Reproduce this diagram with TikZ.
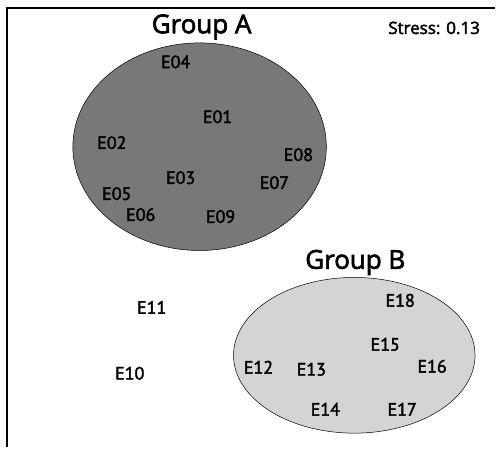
\documentclass[tikz,border=0pt]{standalone}
\usepackage{fontspec}
\setmainfont{PT Sans}
\newfontfamily\lblfont[FakeBold=2.2]{PT Sans}
\newfontfamily\grpfont[FakeBold=2.5]{Open Sans}

\begin{document}
\begin{tikzpicture}[x=1pt,y=-1pt,
  lbl/.style={font=\lblfont\fontsize{18}{20}\selectfont},
  grp/.style={font=\grpfont\fontsize{26}{30}\selectfont}]
\path (0,0) rectangle (496,448);
\draw[line width=2pt] (7,448) -- (7,8) -- (496,8);
\draw[fill=black!53,line width=0.5pt] (200,147) ellipse [x radius=127,y radius=104];
\draw[fill=black!17,line width=0.5pt] (355,356) ellipse [x radius=121,y radius=78];
\node[grp] (grpA) at (202,27) {Group A};
\node[grp] (grpB) at (356,263) {Group B};
\node[font=\grpfont\fontsize{17}{20}\selectfont] (stress) at (435,28) {Stress: 0.13};
\node[lbl] (e01) at (218,117) {E01};
\node[lbl] (e02) at (112,143) {E02};
\node[lbl] (e03) at (181,178) {E03};
\node[lbl] (e04) at (176,62) {E04};
\node[lbl] (e05) at (117,194) {E05};
\node[lbl] (e06) at (141,215) {E06};
\node[lbl] (e07) at (275,183) {E07};
\node[lbl] (e08) at (299,155) {E08};
\node[lbl] (e09) at (221,217) {E09};
\node[lbl] (e10) at (130,374) {E10};
\node[lbl] (e11) at (152,308) {E11};
\node[lbl] (e12) at (259,368) {E12};
\node[lbl] (e13) at (312,370) {E13};
\node[lbl] (e14) at (326,410) {E14};
\node[lbl] (e15) at (386,345) {E15};
\node[lbl] (e16) at (433,367) {E16};
\node[lbl] (e17) at (403,410) {E17};
\node[lbl] (e18) at (401,301) {E18};
\end{tikzpicture}
\end{document}
